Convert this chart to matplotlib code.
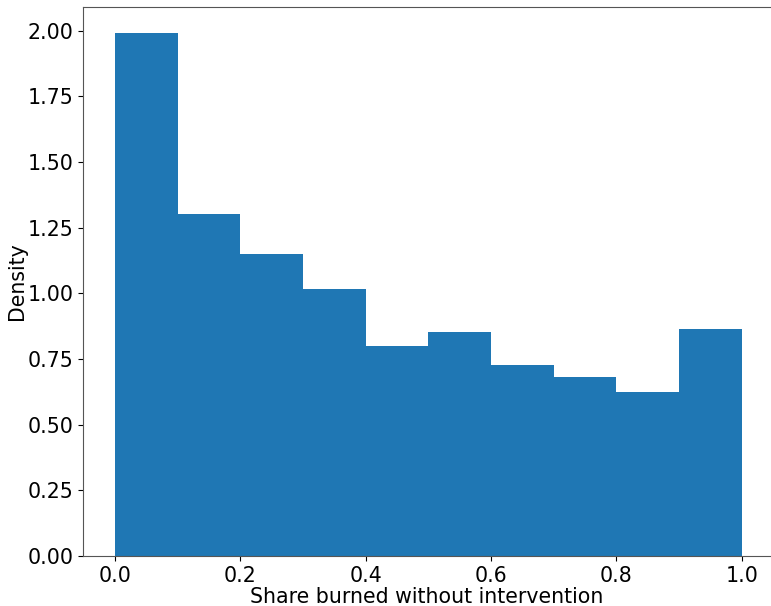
import numpy as np
import matplotlib
matplotlib.use('Agg')
import matplotlib.pyplot as plt

# bin edges and density heights
bin_edges = [0.0, 0.1, 0.2, 0.3, 0.4, 0.5, 0.6, 0.7, 0.8, 0.9, 1.0]
density = [1.991, 1.300, 1.149, 1.015, 0.798, 0.851, 0.727, 0.683, 0.626, 0.866]
xticks = [0.0, 0.2, 0.4, 0.6, 0.8, 1.0]
yticks = [0.0, 0.25, 0.5, 0.75, 1.0, 1.25, 1.5, 1.75, 2.0]

plt.rcParams['font.size'] = 14.8

fig = plt.figure(figsize=(7.71, 6.06), dpi=100)
ax = fig.add_axes([0.1077, 0.0825, 0.891, 0.906])

edges = np.array(bin_edges)
ax.bar(edges[:-1], density, width=np.diff(edges), align='edge', color='#1f77b4')

ax.set_xticks(xticks)
ax.set_xticklabels(['%.1f' % v for v in xticks])
ax.set_yticks(yticks)
ax.set_yticklabels(['%.2f' % v for v in yticks])
ax.set_ylim(0, 2.09)
ax.set_xlim(-0.051, 1.045)
ax.set_xlabel('Share burned without intervention', labelpad=1)
ax.set_ylabel('Density', labelpad=0)

ax.spines['right'].set_visible(False)
for s in ['left', 'bottom', 'top']:
    ax.spines[s].set_color('#555555')

fig.savefig('out.png', dpi=100)
